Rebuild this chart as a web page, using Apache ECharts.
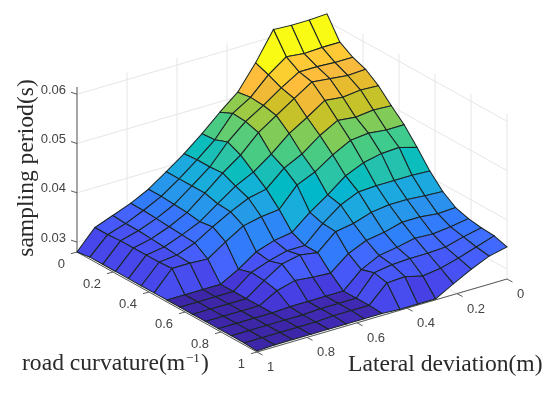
<!DOCTYPE html>
<html><head><meta charset="utf-8">
<style>html,body{margin:0;padding:0;background:#fff}#c{width:550px;height:395px}</style>
<script src="https://cdn.jsdelivr.net/npm/echarts@6/dist/echarts.min.js"></script>
</head><body><div id="c"></div>
<script>
// Tick labels
const curvatureTicks = [0, 0.2, 0.4, 0.6, 0.8, 1];
const deviationTicks = [0, 0.2, 0.4, 0.6, 0.8, 1];
const periodTicks = [0.03, 0.04, 0.05, 0.06];
// sampling period (ms); one array per road-curvature step, values along lateral deviation 0..1
const p00 = [61.5,61.3,61.3,61.5,55.8,50.9,47.9,44.6,41.6,39.0,36.5,34.7,33.3,31.9,28.0];
const p01 = [57.2,57.2,57.0,57.4,54.8,51.3,49.1,44.8,41.8,39.0,36.5,34.7,33.1,31.9,28.4];
const p02 = [55.6,55.6,55.8,55.8,53.6,51.1,48.9,45.8,41.8,39.0,36.3,34.5,33.1,32.1,28.4];
const p03 = [54.6,54.4,54.8,55.2,52.9,50.5,48.1,44.6,42.0,39.0,36.1,34.3,32.9,32.1,28.4];
const p04 = [52.7,52.9,52.5,52.9,50.5,48.3,45.2,42.6,40.8,38.3,35.7,34.1,32.7,32.1,28.4];
const p05 = [50.1,50.3,49.9,50.3,48.3,45.6,43.8,40.6,39.8,38.1,36.1,33.9,32.5,32.1,28.4];
const p06 = [47.7,47.7,48.1,47.7,45.8,43.4,41.8,37.9,37.5,36.7,34.5,32.1,32.3,32.3,28.4];
const p07 = [44.6,45.6,45.4,44.6,43.0,40.2,37.7,34.7,34.1,32.9,30.4,28.4,28.4,28.4,28.4];
const p08 = [41.2,41.4,41.4,41.4,41.2,39.6,36.9,33.5,33.5,32.5,31.2,28.4,28.4,28.4,28.4];
const p09 = [38.5,38.7,39.0,39.0,38.5,37.3,36.7,33.5,34.1,33.3,31.0,28.4,28.4,28.4,28.4];
const p10 = [36.7,36.5,36.9,36.9,35.9,35.3,33.7,30.8,31.0,31.4,30.4,28.4,28.4,28.4,28.4];
const p11 = [35.9,35.3,34.9,35.1,34.3,33.7,31.9,28.6,28.6,28.6,28.6,28.4,28.4,28.4,28.4];
const p12 = [35.5,34.7,33.7,33.5,33.5,33.3,32.7,28.6,28.6,28.6,28.4,28.4,28.4,28.4,28.4];
const p13 = [35.3,34.1,32.9,31.9,31.4,32.3,32.1,28.6,28.6,28.6,28.4,28.4,28.4,28.4,28.4];
const p14 = [34.5,33.7,32.1,30.2,28.2,28.2,28.2,28.4,28.4,28.4,28.4,28.4,28.4,28.4,28.2];
const periodRows = [p00,p01,p02,p03,p04,p05,p06,p07,p08,p09,p10,p11,p12,p13,p14];

const parula = [[.2422,.1504,.6603],[.2504,.165,.7076],[.2578,.1818,.7511],[.2647,.1978,.7952],[.2706,.2147,.8364],[.2751,.2342,.871],[.2783,.2559,.8991],[.2803,.2782,.9221],[.2813,.3006,.9414],[.281,.3228,.9579],[.2795,.3447,.9717],[.276,.3667,.9829],[.2699,.3892,.9906],[.2602,.4123,.9952],[.244,.4358,.9988],[.2206,.4603,.9973],[.1963,.4847,.9892],[.1834,.5074,.9798],[.1786,.5289,.9682],[.1764,.5499,.952],[.1687,.5703,.9359],[.154,.5902,.9218],[.146,.6091,.9079],[.138,.6276,.8973],[.1248,.6459,.8883],[.1113,.6635,.8763],[.0952,.6798,.8598],[.0689,.6948,.8394],[.0297,.7082,.8163],[.0036,.7203,.7917],[.0067,.7312,.766],[.0433,.7411,.7394],[.0964,.75,.712],[.1408,.7584,.6842],[.1717,.767,.6554],[.1938,.7758,.6251],[.2161,.7843,.5923],[.247,.7918,.5567],[.2906,.7973,.5188],[.3406,.8008,.4789],[.3909,.8029,.4354],[.4456,.8024,.3909],[.5044,.7993,.348],[.5616,.7942,.3045],[.6174,.7876,.2612],[.672,.7793,.2227],[.7242,.7698,.191],[.7738,.7598,.1646],[.8203,.7498,.1535],[.8634,.7406,.1596],[.9035,.733,.1774],[.9393,.7288,.21],[.9728,.7298,.2394],[.9956,.7434,.2371],[.997,.7659,.2199],[.9952,.7893,.2028],[.9892,.8136,.1885],[.9786,.8386,.1766],[.9676,.8639,.1643],[.961,.889,.1537],[.9597,.9135,.1423],[.9628,.9373,.1265],[.9691,.9606,.1064],[.9769,.9839,.0805]];

// Orthographic view of the box
const view = {ox:327, oy:179, cx:180, cy:100, dx:-250, dy:73, zScale:4930, zMin:0.028, zMax:0.06147};
const project = (c,d,z) => [view.ox+view.cx*c+view.dx*d, view.oy+view.cy*c+view.dy*d-(z-view.zMin)*view.zScale];
const n = periodRows.length-1;
const allVals = periodRows.flat();
const cMin = Math.min(...allVals), cMax = Math.max(...allVals);
function faceColor(v){
  const k = Math.min(63, Math.floor((v-cMin)/(cMax-cMin)*64));
  const p = parula[k];
  return 'rgb('+p.map(a=>Math.round(a*255)).join(',')+')';
}
// surface cells, back to front
const cells = [];
for(let i=0;i<n;i++) for(let j=0;j<n;j++){
  cells.push([i,j,periodRows[i][j],periodRows[i+1][j],periodRows[i+1][j+1],periodRows[i][j+1]]);
}
// grid lines on walls and floor
const gridLines = [];
for(const d of deviationTicks){ if(d===0) continue;
  gridLines.push([0,d,view.zMin,0,d,view.zMax]);
  gridLines.push([0,d,view.zMin,1,d,view.zMin]);
}
for(const c of curvatureTicks){ if(c===0) continue;
  gridLines.push([c,0,view.zMin,c,0,view.zMax]);
  gridLines.push([c,0,view.zMin,c,1,view.zMin]);
}
for(const z of periodTicks){
  gridLines.push([0,0,z,0,1,z]);
  gridLines.push([0,0,z,1,0,z]);
}
const axisLines = [
  [0,1,view.zMin,0,1,view.zMax],
  [0,1,view.zMin,1,1,view.zMin],
  [1,0,view.zMin,1,1,view.zMin]
];
const tickMarks = [];
periodTicks.forEach(z=>tickMarks.push([0,1,z,-6,-2]));
curvatureTicks.forEach(c=>tickMarks.push([c,1,view.zMin,-6,1.7]));
deviationTicks.forEach(d=>tickMarks.push([1,d,view.zMin,5.5,3]));

const labels = [];
periodTicks.forEach(z=>labels.push({value:[0,1,z,-11,-4],name:z.toFixed(2),align:'right'}));
curvatureTicks.forEach(c=>labels.push({value:[c,1,view.zMin,-12,12],name:String(c),align:'right'}));
deviationTicks.forEach(d=>labels.push({value:[1,d,view.zMin,10,15.5],name:String(d),align:'left'}));

function lineSeries(data,color,width,z){
  return {type:'custom',coordinateSystem:'cartesian2d',silent:true,animation:false,z,data,clip:false,
    renderItem(p,api){
      const a=api.coord(project(api.value(0),api.value(1),api.value(2)));
      const b=api.coord(project(api.value(3),api.value(4),api.value(5)));
      return {type:'line',shape:{x1:a[0],y1:a[1],x2:b[0],y2:b[1]},style:{stroke:color,lineWidth:width,fill:null}};
    }};
}
const chart = echarts.init(document.getElementById('c'),null,{renderer:'canvas'});
chart.setOption({
  animation:false,
  backgroundColor:'#fff',
  grid:{left:0,right:0,top:0,bottom:0},
  xAxis:{type:'value',min:0,max:550,show:false},
  yAxis:{type:'value',min:0,max:395,inverse:true,show:false},
  series:[
    lineSeries(gridLines,'#e6e6e6',1,1),
    lineSeries(axisLines,'#5a5a5a',1,2),
    {type:'custom',coordinateSystem:'cartesian2d',silent:true,animation:false,z:2,data:tickMarks,clip:false,
      renderItem(p,api){
        const a=api.coord(project(api.value(0),api.value(1),api.value(2)));
        return {type:'line',shape:{x1:a[0],y1:a[1],x2:a[0]+api.value(3),y2:a[1]+api.value(4)},style:{stroke:'#5a5a5a',lineWidth:1,fill:null}};
      }},
    {type:'custom',coordinateSystem:'cartesian2d',silent:true,animation:false,z:3,data:cells,clip:false,progressive:0,
      renderItem(p,api){
        const i=api.value(0),j=api.value(1);
        const v=[api.value(2),api.value(3),api.value(4),api.value(5)];
        const pos=[[i,j],[i+1,j],[i+1,j+1],[i,j+1]];
        const pts=pos.map((q,k)=>api.coord(project(q[0]/n,q[1]/n,v[k]/1000)));
        return {type:'polygon',shape:{points:pts},style:{fill:faceColor(v[0]),stroke:'#1a2626',lineWidth:1.05}};
      }},
    {type:'custom',coordinateSystem:'cartesian2d',silent:true,animation:false,z:4,data:labels,clip:false,
      renderItem(p,api){
        const a=api.coord(project(api.value(0),api.value(1),api.value(2)));
        const it=labels[p.dataIndex];
        return {type:'text',x:a[0]+api.value(3),y:a[1]+api.value(4),
          style:{text:it.name,align:it.align,verticalAlign:'middle',fontFamily:'Liberation Sans',fontSize:13,fill:'#444'}};
      }}
  ],
  graphic:{elements:[
    {type:'text',x:27,y:168,rotation:Math.PI/2,silent:true,
      style:{text:'sampling period(s)',align:'center',verticalAlign:'middle',fontFamily:'Liberation Serif',fontSize:23.6,fill:'#2a2a2a'}},
    {type:'text',left:22,top:352,silent:true,
      style:{text:'road curvature(m',fontFamily:'Liberation Serif',fontSize:23.6,fill:'#2a2a2a'}},
    {type:'text',left:186,top:352,silent:true,
      style:{text:'−1',fontFamily:'Liberation Serif',fontSize:13,fill:'#2a2a2a'}},
    {type:'text',left:201,top:352,silent:true,
      style:{text:')',fontFamily:'Liberation Serif',fontSize:23.6,fill:'#2a2a2a'}},
    {type:'text',left:348,top:353,silent:true,
      style:{text:'Lateral deviation(m)',fontFamily:'Liberation Serif',fontSize:23.6,fill:'#2a2a2a'}}
  ]}
});
</script></body></html>
